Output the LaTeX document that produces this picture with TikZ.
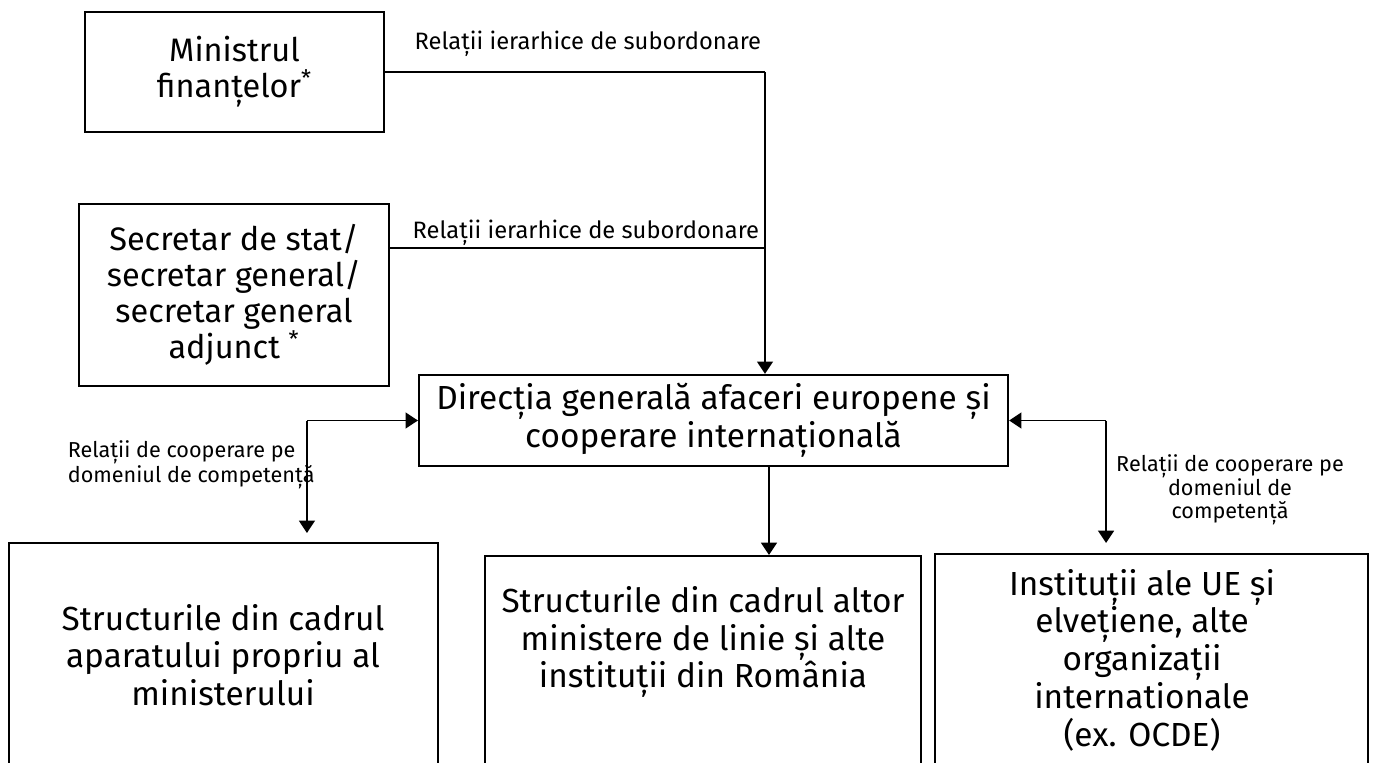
\documentclass[tikz,border=0pt]{standalone}
\usepackage{fontspec}
\setmainfont{Fira Sans}
\usetikzlibrary{arrows.meta,positioning}

\begin{document}
\begin{tikzpicture}[x=0.02cm,y=-0.02cm,>={Triangle[length=7pt,width=9pt]},line width=1pt,
  org node/.style={draw,line width=1.3pt,align=center,inner sep=0pt,font=\fontsize{18.5}{20.5}\selectfont},
  open node/.style={draw,line width=1.3pt,anchor=north,minimum height=5cm,inner sep=0pt},
  open text/.style={align=center,inner sep=0pt,font=\fontsize{19}{21.5}\selectfont},
  rel label/.style={inner sep=0pt,font=\fontsize{13.5}{13.6}\selectfont},
  coop label/.style={inner sep=0pt,font=\fontsize{12.3}{13.3}\selectfont}]

  \clip (0,0) rectangle (1378,763);

  \node[org node,minimum width=5.98cm,minimum height=2.4cm] (min) at (234.5,72) {Ministrul\\finanțelor\textsuperscript{*}};
  \node[org node,minimum width=6.2cm,minimum height=3.64cm] (sec) at (234,295) {Secretar de stat/\\secretar general/\\secretar general\\adjunct \textsuperscript{*}};
  \node[org node,minimum width=11.78cm,minimum height=1.82cm,font=\fontsize{19}{21.5}\selectfont] (dir) at (713.5,420.5) {Direcția generală afaceri europene și\\cooperare internațională};

  \node[open node,minimum width=8.58cm] (own) at (223.5,542) {};
  \node[open node,minimum width=8.72cm] (oth) at (703,555) {};
  \node[open node,minimum width=8.66cm] (intl) at (1151.5,553) {};
  \node[open text] (ownt) at (223,655) {Structurile din cadrul\\aparatului propriu al\\ministerului};
  \node[open text] (otht) at (703,642) {Structurile din cadrul altor\\ministere de linie și alte\\instituții din România};
  \node[open text] (intlt) at (1142,660) {Instituții ale UE și\\elvețiene, alte\\organizații\\internationale\\(ex. OCDE)};

  \coordinate (hx) at (765,0);
  \coordinate (mx) at (769,0);
  \coordinate (lc) at ([xshift=-2.22cm]dir.west);
  \coordinate (rc) at ([xshift=1.94cm]dir.east);

  % subordonare
  \draw (min.east) -- (min.east -| hx);
  \draw ([yshift=0.94cm]sec.east) -- (hx |- 0,248);
  \draw[->] (min.east -| hx) -- (dir.north -| hx);
  \node[rel label,anchor=east] (sub1) at (762,44) {Relații ierarhice de subordonare};
  \node[rel label,anchor=east] (sub2) at (760,233) {Relații ierarhice de subordonare};

  % cooperare
  \draw[->] (lc) -- (dir.west);
  \draw[->,shorten >=0.18cm] (lc) -- (lc |- own.north);
  \draw[->] (rc) -- (dir.east);
  \draw[->,shorten >=0.2cm] (rc) -- (rc |- intl.north);
  \draw[->] (dir.south -| mx) -- (oth.north -| mx);
  \node[coop label,anchor=west,align=left] (coop1) at (67,465) {Relații de cooperare pe\\domeniul de competență};
  \node[coop label,align=center] (coop2) at (1230,490) {Relații de cooperare pe\\domeniul de\\competență};
\end{tikzpicture}
\end{document}
